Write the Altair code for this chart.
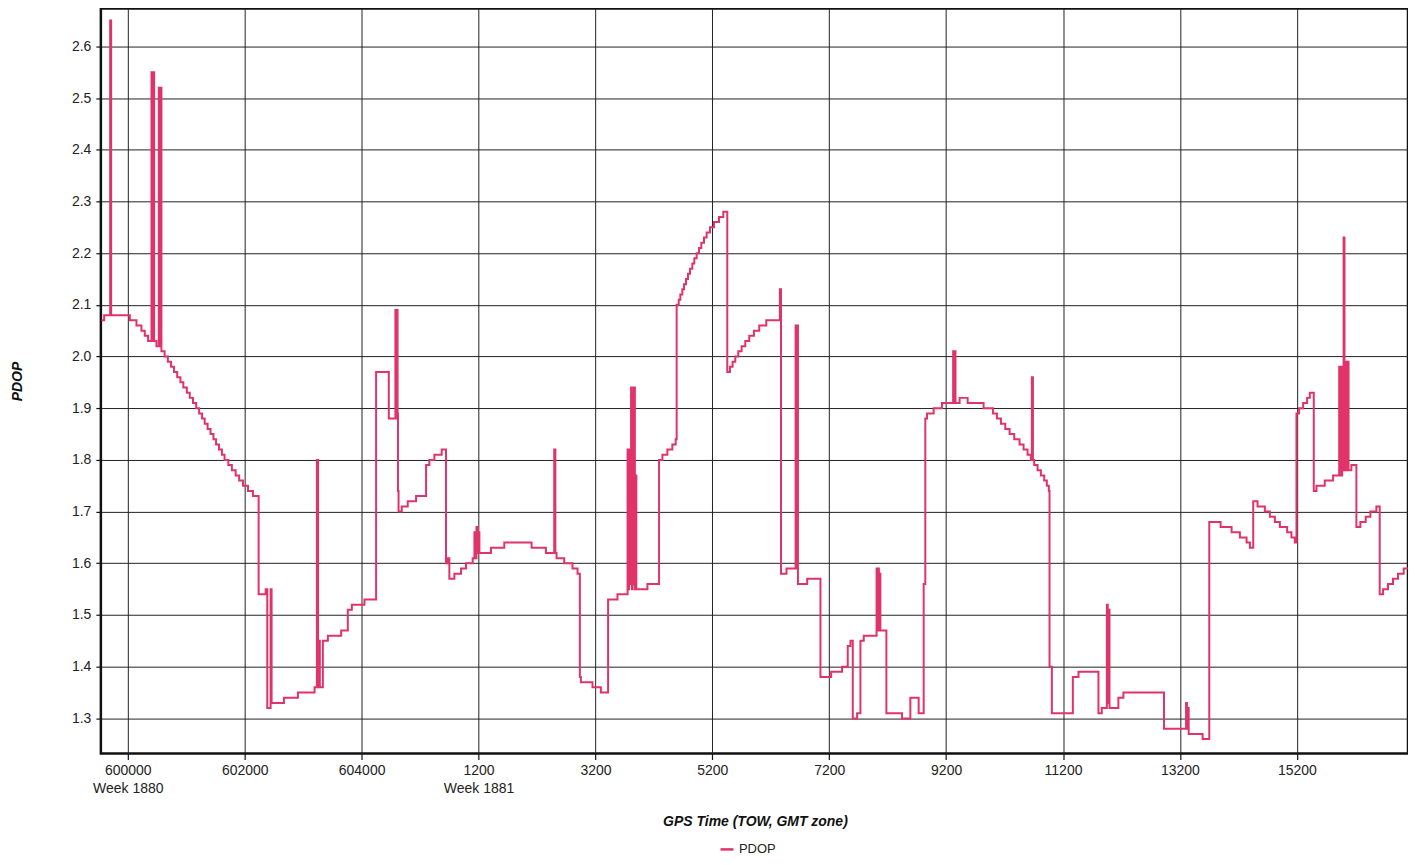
import altair as alt
import pandas as pd

# GPS time as seconds counted from the start of GPS week 1880 (week 1881 starts at 604800)
t_sec = [
    599550, 599595, 599698, 599715, 600034, 600148, 600233, 600290, 600347,
    600405, 600420, 600430, 600450, 600490, 600530, 600550, 600560, 600575,
    600630, 600685, 600740, 600790, 600845, 600900, 600950, 601010, 601060, 601115,
    601170, 601220, 601270, 601315, 601365, 601415, 601465, 601510, 601560, 601610,
    601655, 601720, 601780, 601845, 601905, 601970, 602056, 602141,
    602238, 602358, 602386, 602443, 602460, 602671, 602910, 603195,
    603235, 603255, 603269, 603285, 603337, 603423, 603650, 603764, 603833, 604049,
    604248, 604465, 604578, 604592, 604600, 604615, 604622, 604632,
    604687, 604789, 604932, 605103, 605159, 605245, 605370,
    605444, 605470, 605501, 605587, 605701, 605786, 605900,
    605930, 605950, 605965, 605985, 606000, 606015,
    606213, 606441, 606908, 607153, 607295, 607315, 607335, 607466, 607608, 607694,
    607734, 607751, 607950, 608093, 608217, 608377,
    608550, 608565, 608575, 608590, 608610, 608625, 608635, 608650, 608660, 608675, 608690, 608700,
    608890, 609089, 609146, 609231, 609316, 609373,
    609390, 609425, 609453, 609487, 609516, 609550, 609584, 609618, 609658, 609692,
    609732, 609772, 609812, 609858, 609903, 609960, 610028, 610114, 610188,
    610256, 610302, 610347, 610393, 610444, 610501, 610564, 610632, 610712, 610803, 610923,
    611156, 611175, 611269, 611425, 611440, 611450, 611465, 611623,
    611850, 612033, 612220, 612317, 612363, 612403, 612477, 612534, 612591,
    612810, 612825, 612835, 612850, 612860, 612875,
    612978, 613246, 613388, 613530, 613616, 613644, 613673, 613787, 613929,
    614120, 614135, 614145, 614160, 614231, 614368, 614641,
    614801, 614869, 614938, 615012, 615086, 615165, 615256, 615325, 615393, 615450,
    615467, 615485, 615507, 615564, 615621, 615678, 615723, 615758,
    615769, 615809, 616168, 616265, 616606, 616663,
    616750, 616765, 616780, 616795, 616947, 617033, 617728,
    618105, 618120, 618130, 618150, 618388, 618502,
    618696, 618884, 619026, 619140, 619197, 619254, 619328, 619453, 619539, 619624, 619710,
    619834, 619908, 619965, 619994, 620039, 620108, 620176, 620222,
    620290, 620336, 620478, 620620,
    620725, 620740, 620750, 620765, 620775, 620790, 620800, 620815, 620825, 620840, 620850, 620865, 620872, 620885,
    620933, 621019, 621087, 621178, 621258, 621361,
    621418, 621475, 621560, 621645, 621731, 621828, 621900,
]

pdop = [
    2.07, 2.08, 2.65, 2.08, 2.07, 2.06, 2.05, 2.04, 2.03,
    2.55, 2.03, 2.55, 2.03, 2.02, 2.52, 2.02, 2.52, 2.01,
    2.00, 1.99, 1.98, 1.97, 1.96, 1.95, 1.94, 1.93, 1.92, 1.91,
    1.90, 1.89, 1.88, 1.87, 1.86, 1.85, 1.84, 1.83, 1.82, 1.81,
    1.80, 1.79, 1.78, 1.77, 1.76, 1.75, 1.74, 1.73,
    1.54, 1.55, 1.32, 1.55, 1.33, 1.34, 1.35, 1.36,
    1.80, 1.36, 1.45, 1.36, 1.45, 1.46, 1.47, 1.51, 1.52, 1.53,
    1.97, 1.88, 2.09, 1.88, 2.09, 1.89, 1.74, 1.70,
    1.71, 1.72, 1.73, 1.79, 1.80, 1.81, 1.82,
    1.60, 1.61, 1.57, 1.58, 1.59, 1.60, 1.61,
    1.66, 1.61, 1.67, 1.62, 1.66, 1.62,
    1.63, 1.64, 1.63, 1.62, 1.82, 1.62, 1.61, 1.60, 1.59, 1.58,
    1.38, 1.37, 1.36, 1.35, 1.53, 1.54,
    1.82, 1.55, 1.82, 1.56, 1.94, 1.55, 1.93, 1.56, 1.94, 1.55, 1.77, 1.55,
    1.56, 1.80, 1.81, 1.82, 1.83, 1.84,
    2.10, 2.11, 2.12, 2.13, 2.14, 2.15, 2.16, 2.17, 2.18, 2.19,
    2.20, 2.21, 2.22, 2.23, 2.24, 2.25, 2.26, 2.27, 2.28,
    1.97, 1.98, 1.99, 2.00, 2.01, 2.02, 2.03, 2.04, 2.05, 2.06, 2.07,
    2.13, 1.58, 1.59, 2.06, 1.59, 2.06, 1.56, 1.57,
    1.38, 1.39, 1.40, 1.44, 1.45, 1.30, 1.31, 1.45, 1.46,
    1.59, 1.47, 1.59, 1.47, 1.58, 1.47,
    1.31, 1.30, 1.34, 1.31, 1.56, 1.88, 1.89, 1.90, 1.91,
    2.01, 1.91, 2.01, 1.91, 1.92, 1.91, 1.90,
    1.89, 1.88, 1.87, 1.86, 1.85, 1.84, 1.83, 1.82, 1.81, 1.80,
    1.96, 1.80, 1.79, 1.78, 1.77, 1.76, 1.75, 1.74,
    1.40, 1.31, 1.38, 1.39, 1.31, 1.32,
    1.52, 1.33, 1.51, 1.32, 1.34, 1.35, 1.28,
    1.33, 1.28, 1.32, 1.27, 1.26, 1.68,
    1.67, 1.66, 1.65, 1.64, 1.63, 1.72, 1.71, 1.70, 1.69, 1.68, 1.67,
    1.66, 1.65, 1.64, 1.89, 1.90, 1.91, 1.92, 1.93,
    1.74, 1.75, 1.76, 1.77,
    1.98, 1.77, 1.98, 1.77, 1.98, 1.78, 2.23, 1.78, 1.99, 1.78, 1.99, 1.78, 1.99, 1.78,
    1.79, 1.67, 1.68, 1.69, 1.70, 1.71,
    1.54, 1.55, 1.56, 1.57, 1.58, 1.59, 1.59,
]

x_ticks = [600000, 602000, 604000, 606000, 608000, 610000, 612000, 614000, 616000, 618000, 620000]
y_ticks = [1.3, 1.4, 1.5, 1.6, 1.7, 1.8, 1.9, 2.0, 2.1, 2.2, 2.3, 2.4, 2.5, 2.6]
series_name = "PDOP"
line_color = "#E0336A"

df = pd.DataFrame({"t": t_sec, "pdop": pdop, "series": series_name})

label_expr = (
    "datum.value == 600000 ? ['600000', 'Week 1880'] : "
    "datum.value == 606000 ? ['1200', 'Week 1881'] : "
    "(datum.value >= 604800 ? format(datum.value - 604800, 'd') : format(datum.value, 'd'))"
)

FONT = "Liberation Sans"

chart = (
    alt.Chart(df)
    .mark_line(interpolate="step-after", strokeWidth=2, clip=True)
    .encode(
        x=alt.X(
            "t:Q",
            scale=alt.Scale(domain=[599539, 621902], nice=False, zero=False),
            axis=alt.Axis(
                values=x_ticks,
                labelExpr=label_expr,
                labelOverlap=False,
                labelFlush=False,
                labelLineHeight=18,
                labelPadding=4,
                tickSize=6,
                title="GPS Time (TOW, GMT zone)",
                titleX=655,
                titleY=68,
                titleAlign="center",
                titleBaseline="middle",
            ),
        ),
        y=alt.Y(
            "pdop:Q",
            scale=alt.Scale(domain=[1.232, 2.673], nice=False, zero=False),
            axis=alt.Axis(
                values=y_ticks,
                format=".1f",
                tickSize=5,
                labelPadding=5,
                title="PDOP",
                titleX=-83,
                titleY=373,
                titleAlign="center",
                titleBaseline="middle",
                titleAngle=270,
            ),
        ),
        color=alt.Color(
            "series:N",
            scale=alt.Scale(domain=[series_name], range=[line_color]),
            legend=alt.Legend(
                title=None,
                orient="none",
                legendX=619,
                legendY=834,
                symbolType="stroke",
                symbolSize=169,
                symbolStrokeWidth=2.5,
                labelFontSize=13,
                labelColor="#222",
                labelFont=FONT,
                padding=0,
            ),
        ),
    )
    .properties(
        width=1309,
        height=746,
        autosize=alt.AutoSizeParams(type="none"),
        padding={"left": 93, "top": 0, "right": 0, "bottom": 104},
        background="white",
    )
    .configure_view(stroke="#111", strokeWidth=2.5)
    .configure_axis(
        domain=False,
        grid=True,
        gridColor="#222",
        gridWidth=1,
        gridOpacity=1,
        tickColor="#111",
        tickWidth=1.2,
        labelFont=FONT,
        labelFontSize=14,
        labelColor="#222",
        titleFont=FONT,
        titleFontSize=14,
        titleFontWeight="bold",
        titleFontStyle="italic",
        titleColor="#111",
    )
)

chart.save("out.html", embed_options={"renderer": "svg", "actions": False})
